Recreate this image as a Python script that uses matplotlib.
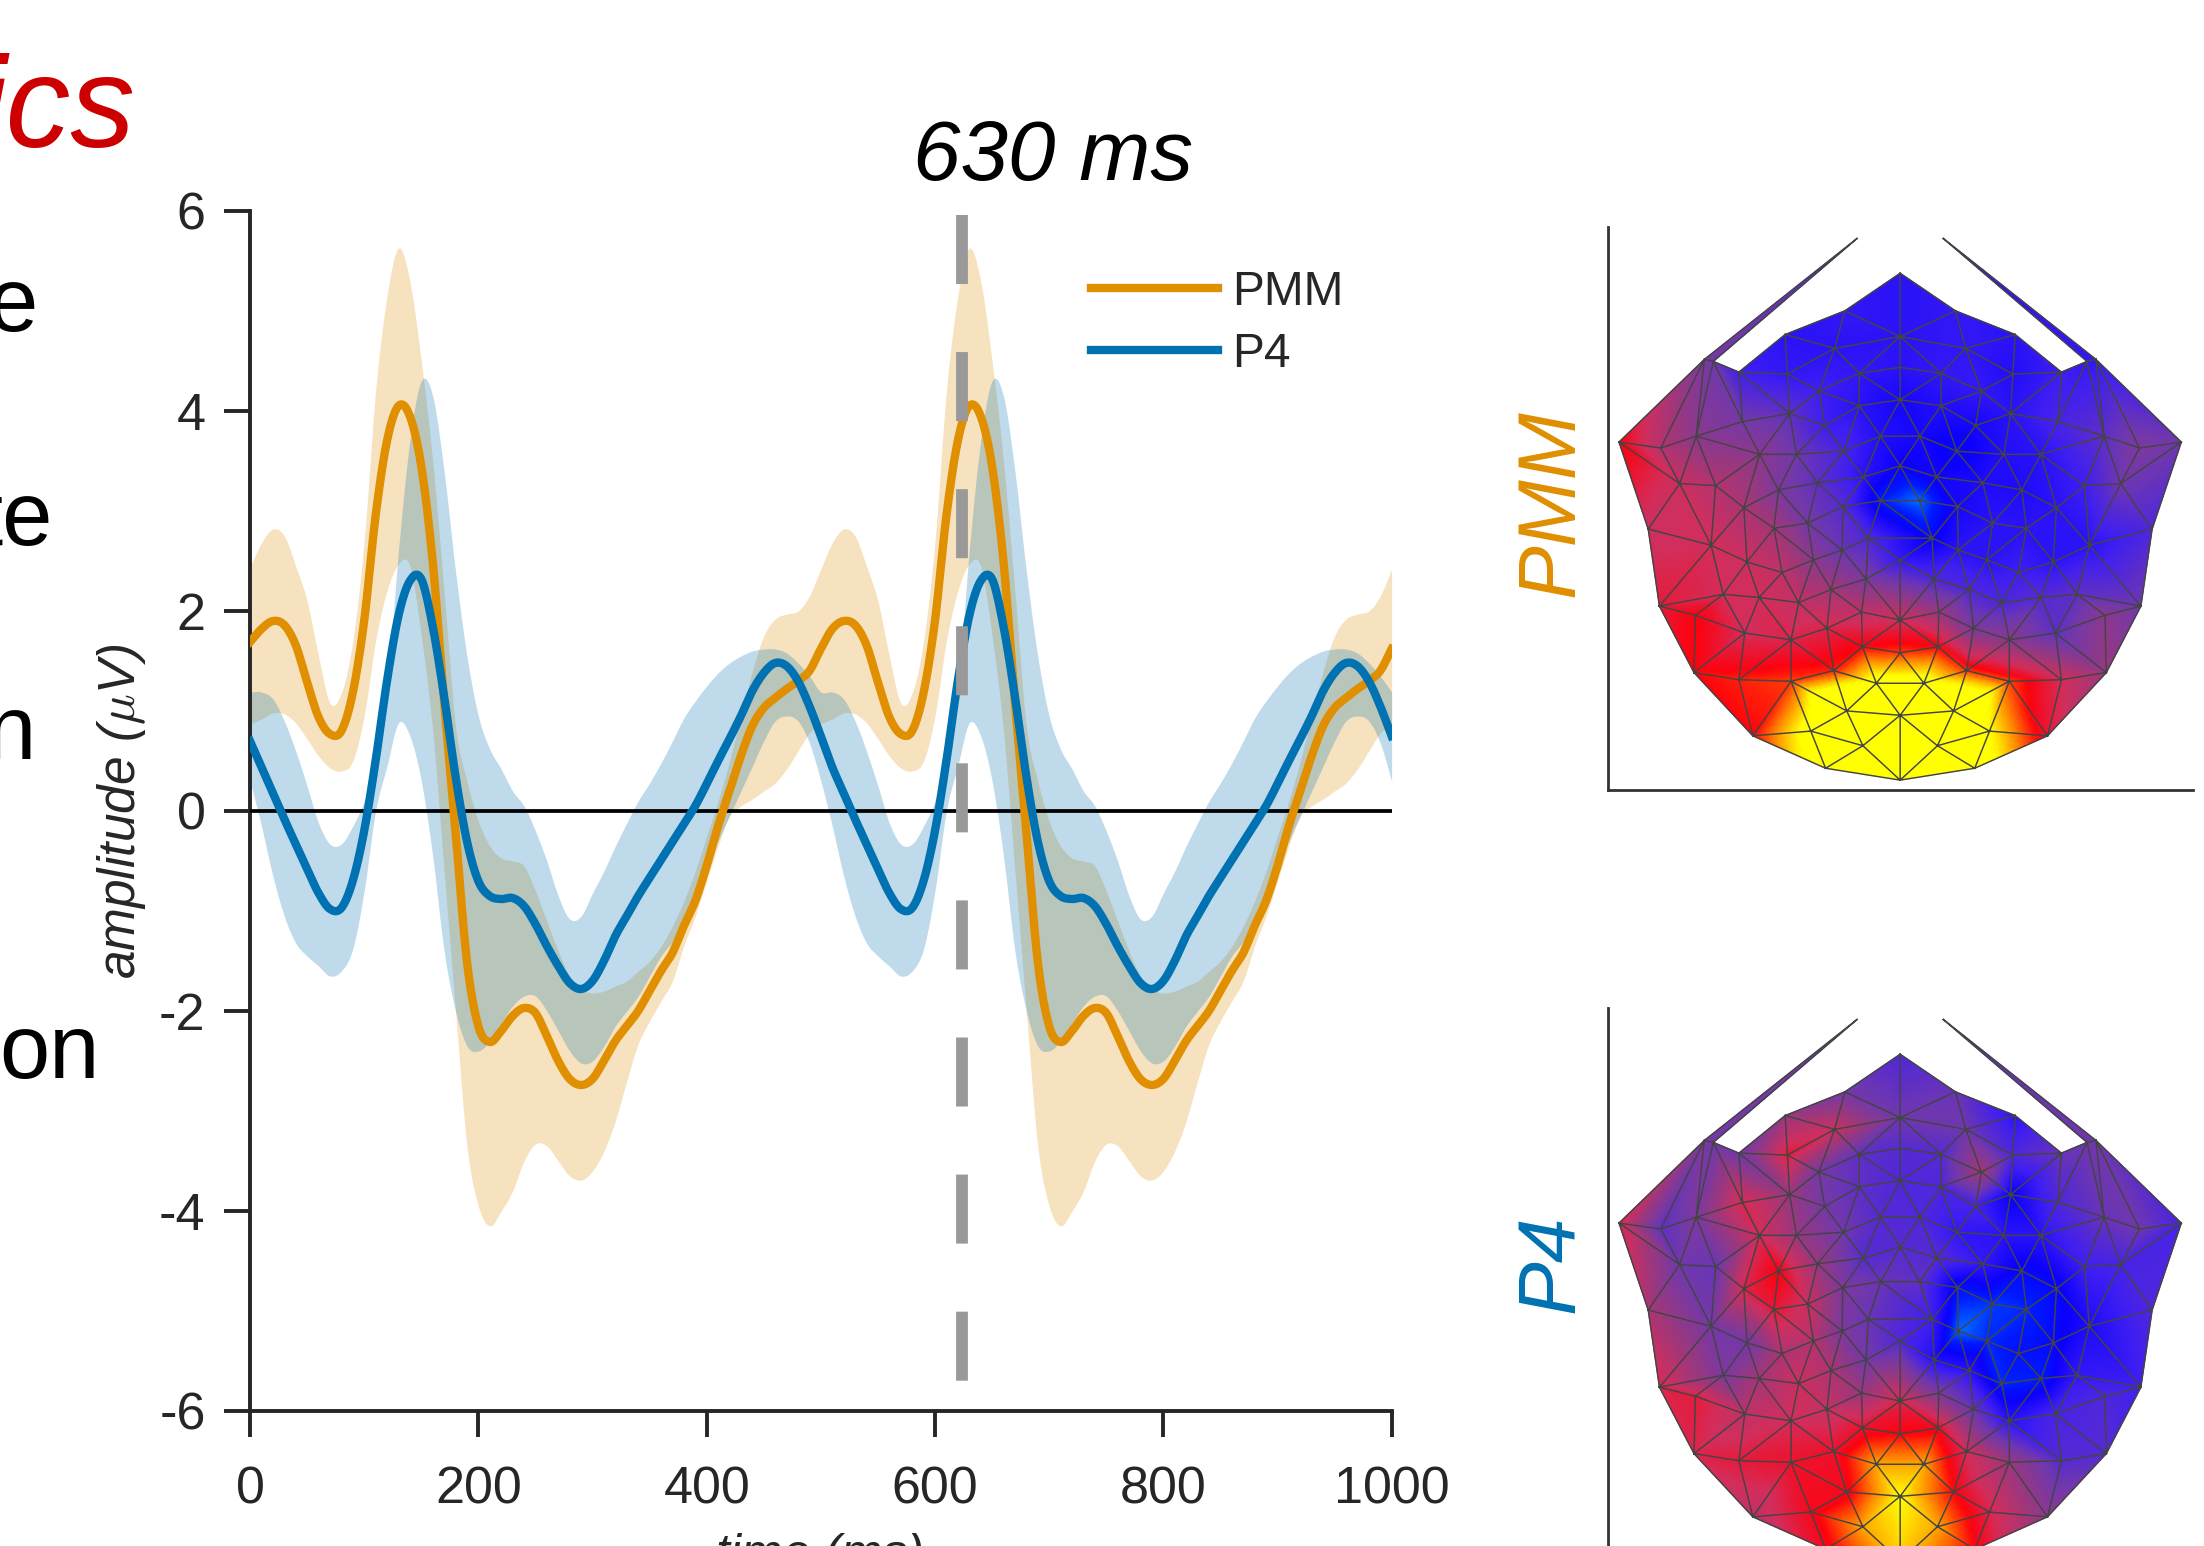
import numpy as np
import matplotlib
matplotlib.use("Agg")
import matplotlib.pyplot as plt
from matplotlib.tri import Triangulation
from matplotlib.path import Path
from matplotlib.colors import LinearSegmentedColormap

plt.rcParams['font.family'] = ['Liberation Sans', 'DejaVu Sans']
plt.rcParams['mathtext.fontset'] = 'cm'
plt.rcParams['axes.unicode_minus'] = False
plt.rcParams['lines.scale_dashes'] = False

W, H = 2204, 1546
ORANGE = '#DF8F00'
BLUE = '#0072B2'
DARK = '#262626'

# ---------- time courses: one 0-500 ms epoch, shown twice ----------
time_ms = np.arange(0, 1001, 10)
xticks = [0, 200, 400, 600, 800, 1000]
yticks = [-6, -4, -2, 0, 2, 4, 6]
marker_ms = 624

pmm_mean = [1.69, 1.82, 1.90, 1.86, 1.66, 1.29, .94, .77, .80, 1.18, 1.9, 2.95, 3.7, 4.05, 3.95, 3.45, 2.5, 1.1, -.2, -1.5,
            -2.15, -2.31, -2.2, -2.05, -1.97, -2.02, -2.25, -2.5, -2.68, -2.74, -2.68, -2.5, -2.3, -2.15, -2.0, -1.8,
            -1.6, -1.42, -1.15, -.9, -.55, -.15, .2, .55, .85, 1.03, 1.13, 1.22, 1.3, 1.4, 1.62]
pmm_upper = [2.44, 2.68, 2.82, 2.75, 2.45, 2.1, 1.55, 1.08, 1.18, 1.7, 2.7, 4.2, 5.15, 5.63, 5.3, 4.5, 3.5, 2.2, .85, .3,
             -.1, -.35, -.47, -.5, -.55, -.8, -1.1, -1.4, -1.65, -1.78, -1.82, -1.8, -1.75, -1.7, -1.6, -1.5,
             -1.35, -1.15, -.9, -.6, -.25, .1, .5, .95, 1.4, 1.75, 1.92, 1.97, 2.0, 2.15, 2.42]
pmm_lower = [.87, .92, .98, .97, .88, .72, .55, .43, .4, .5, .95, 1.7, 2.2, 2.47, 2.45, 1.75, .8, -.6, -2.0, -3.35,
             -3.95, -4.15, -4.0, -3.8, -3.5, -3.33, -3.35, -3.5, -3.65, -3.69, -3.6, -3.4, -3.1, -2.7, -2.33, -2.1,
             -1.9, -1.7, -1.35, -1.05, -.7, -.35, -.05, .05, .12, .2, .28, .42, .6, .78, .87]
p4_mean = [.7, .44, .18, -.08, -.33, -.58, -.82, -.98, -.97, -.7, -.2, .5, 1.3, 1.95, 2.3, 2.32, 1.85, 1.15, .35, -.3,
           -.7, -.85, -.88, -.87, -.95, -1.13, -1.35, -1.55, -1.72, -1.78, -1.7, -1.5, -1.25, -1.05, -.85, -.67,
           -.49, -.31, -.13, .05, .27, .5, .72, .95, 1.2, 1.38, 1.48, 1.45, 1.3, 1.05, .75]
p4_upper = [1.19, 1.19, 1.12, .9, .6, .25, -.12, -.33, -.33, -.15, .1, .5, 1.2, 2.6, 3.7, 4.3, 4.15, 3.4, 2.4, 1.55,
            .95, .62, .42, .2, .05, -.2, -.5, -.85, -1.08, -1.05, -.82, -.6, -.35, -.12, .1, .28,
            .48, .7, .93, 1.1, 1.25, 1.38, 1.48, 1.55, 1.6, 1.62, 1.62, 1.58, 1.48, 1.35, 1.19]
p4_lower = [.3, -.15, -.65, -1.05, -1.32, -1.45, -1.55, -1.65, -1.6, -1.38, -.8, 0, .45, .88, .75, .3, -.45, -1.4, -2.0, -2.35,
            -2.4, -2.3, -2.12, -1.95, -1.85, -1.85, -2.0, -2.2, -2.4, -2.52, -2.5, -2.35, -2.15, -2.0, -1.85, -1.65,
            -1.45, -1.3, -1.05, -.85, -.6, -.3, -.05, .2, .45, .7, .9, .95, .9, .68, .3]

def twice(a):
    return np.array(a + a[1:])

def curve(x, y, sub=12):
    """Draw a curve (not a polygon) through the read values: cubic Hermite segments."""
    x = np.asarray(x, float)
    y = np.asarray(y, float)
    m = np.gradient(y, x)
    h = x[1:] - x[:-1]
    u = np.linspace(0, 1, sub, endpoint=False)[None, :]
    h00 = 2 * u**3 - 3 * u**2 + 1
    h10 = u**3 - 2 * u**2 + u
    h01 = -2 * u**3 + 3 * u**2
    h11 = u**3 - u**2
    yy = (h00 * y[:-1, None] + h10 * (h * m[:-1])[:, None] + h01 * y[1:, None] + h11 * (h * m[1:])[:, None]).ravel()
    xx = (x[:-1, None] + h[:, None] * u).ravel()
    return np.r_[xx, x[-1]], np.r_[yy, y[-1]]

# ---------- scalp mesh: left half nodes, mirrored about mesh_axis ----------
mesh_axis_x2 = 1782
left_x = [768, 635, 745, 532, 640, 800, 710, 800, 645, 540, 723, 847, 437, 358, 765, 660, 578, 400, 480, 620,
          707, 810, 763, 848, 543, 610, 685, 470, 330, 762, 698, 628, 550, 815, 497, 577, 665, 737, 355, 435,
          805, 728, 545, 648, 807, 743, 838, 432, 532, 648, 772, 692, 563, 808, 725, 820, 455, 475, 265]
left_y = [280, 340, 375, 435, 440, 438, 483, 520, 540, 560, 570, 597, 597, 627, 635, 643, 643, 717, 722, 733,
          715, 700, 775, 760, 778, 830, 817, 873, 832, 885, 910, 942, 915, 958, 997, 1005, 1018, 985, 1027, 1050,
          1042, 1083, 1095, 1112, 1130, 1190, 1222, 1195, 1213, 1217, 1292, 1343, 1355, 1380, 1437, 855, 403, 408, 612]
center_y = [185, 345, 423, 505, 672, 910, 1062, 1145, 1303, 1467]
spike_xy = (795, 97)

pmm_left = [.22, .2, .2, .25, .22, .22, .25, .2, .35, .42, .25, .18, .5, .62, .28, .4, .5, .68, .62, .45,
            .35, .2, .32, .06, .6, .58, .42, .7, .68, .38, .5, .65, .68, .45, .7, .7, .66, .58, .74, .8,
            .65, .72, .7, .72, .8, .82, 1.05, .8, .82, .84, 1.3, 1.05, .8, 1.6, 1.1, .3, .45, .4, .8]
pmm_right = [.22, .2, .22, .25, .18, .22, .22, .18, .2, .28, .15, .15, .35, .45, .1, .18, .2, .4, .25, .17,
             .17, .14, .15, 0.0, .2, .2, .2, .2, .3, .2, .2, .25, .2, .3, .35, .32, .3, .3, .4, .5,
             .55, .45, .35, .5, .8, .84, 1.05, .55, .7, .85, 1.3, 1.0, .75, 1.6, 1.1, .1, .22, .22, .4]
pmm_center = [.2, .2, .2, .15, .12, .22, .7, .84, 1.6, 1.6]
pmm_spikes = [.3, .2]

p4_left = [.42, .55, .68, .4, .75, .35, .42, .35, .55, .72, .42, .32, .45, .35, .4, .55, .7, .4, .38, .8,
           .55, .32, .45, .38, .72, .75, .68, .42, .6, .45, .62, .6, .42, .42, .45, .58, .68, .6, .72, .74,
           .55, .66, .65, .7, .76, .76, .92, .72, .74, .76, .78, .78, .65, .92, .78, .38, .45, .4, .72]
p4_right = [.38, .2, .4, .38, .3, .32, .58, .3, .12, .3, .27, .3, .38, .4, .22, .2, .2, .28, .25, .1,
            .22, .32, .08, .35, .1, .05, .04, .17, .3, 0.0, .05, .08, .1, .18, .22, .06, .05, .2, .25, .3,
            .45, .38, .28, .2, .78, .7, .92, .32, .32, .55, .8, .72, .5, .92, .8, .25, .4, .4, .28]
p4_center = [.3, .4, .32, .3, .32, .3, .72, .8, 1.0, .95]
p4_spikes = [.4, .35]

# ---------- colour scale ----------
cmap_stops = [(0.0, (0.0, .42, 1.0)), (.06, (0.0, .1, 1.0)), (.12, (.04, 0.0, 1.0)), (.25, (.25, .12, .95)),
              (.4, (.44, .22, .68)), (.55, (.60, .22, .50)), (.7, (.83, .18, .36)), (.8, (1.0, 0.0, .05)),
              (.9, (1.0, .55, 0.0)), (1.0, (1.0, 1.0, 0.0))]
topo_cmap = LinearSegmentedColormap.from_list('topo', cmap_stops)

# ---------- figure helpers ----------
fig = plt.figure(figsize=(W / 100, H / 100), dpi=100)

def add_ax(l, t, r, b):
    return fig.add_axes([l / W, 1 - b / H, (r - l) / W, (b - t) / H])

def ftext(px, py, s, **kw):
    return fig.text(px / W, 1 - py / H, s, **kw)

# ---------- main axes ----------
ax = add_ax(250, 211, 1391.6, 1411)
t = time_ms
for lo, up, col, z in [(pmm_lower, pmm_upper, ORANGE, 1), (p4_lower, p4_upper, BLUE, 2)]:
    xs, ys_lo = curve(t, twice(lo))
    _, ys_up = curve(t, twice(up))
    ax.fill_between(xs, ys_lo, ys_up, color=col, alpha=.25, lw=0, zorder=z)
ax.plot([0, 1000], [0, 0], color='k', lw=2.7, zorder=3)
ax.plot(*curve(t, twice(pmm_mean)), color=ORANGE, lw=6, label='PMM', zorder=4, solid_joinstyle='round')
ax.plot(*curve(t, twice(p4_mean)), color=BLUE, lw=6, label='P4', zorder=5, solid_joinstyle='round')
ax.plot([marker_ms, marker_ms], [5.955, -5.695], color='#999999', lw=8.5, ls=(0, (49.7, 49)),
        dash_capstyle='butt', zorder=6)
ax.set_xlim(0, 1000)
ax.set_ylim(-6, 6)
ax.set_xticks(xticks)
ax.set_xticklabels([str(v) for v in xticks])
ax.set_yticks(yticks)
ax.set_yticklabels([str(v) for v in yticks])
ax.tick_params(axis='both', direction='out', length=19, width=2.8, color=DARK, labelcolor=DARK, labelsize=37.5)
ax.tick_params(axis='x', pad=20.5)
ax.tick_params(axis='y', pad=13)
for s in ('top', 'right'):
    ax.spines[s].set_visible(False)
for s in ('left', 'bottom'):
    ax.spines[s].set_linewidth(2.8)
    ax.spines[s].set_color(DARK)
ax.legend(loc='upper left', bbox_to_anchor=((1091 - 250) / 1141.6, (1411 - 270) / 1200), frameon=False, fontsize=34.5,
          handlelength=2.64, handletextpad=.3, labelspacing=.36, borderpad=0, borderaxespad=0,
          labelcolor=DARK)

ftext(122, 811, 'amplitude ($\\mu$V)', rotation=90, ha='center', va='center', style='italic', fontsize=37, color=DARK)
ftext(820, 1556, 'time (ms)', ha='center', va='center', style='italic', fontsize=36, color=DARK)
ftext(1053, 158, '630 ms', ha='center', va='center', style='italic', fontsize=61.5, color='k')

# clipped slide text
ftext(136, 147, 'ics', ha='right', va='baseline', style='italic', fontsize=93, color='#CC0000')
for px, py, s in [(37, 331, 'e'), (53, 545, 'te'), (35, 759, 'n'), (100, 1078, 'on')]:
    ftext(px, py, s, ha='right', va='baseline', fontsize=65, color='k')

# ---------- topographies ----------
lx = np.array(left_x, float)
ly = np.array(left_y, float)
cy = np.array(center_y, float)
mx = np.r_[lx, mesh_axis_x2 - lx, np.full(cy.size, mesh_axis_x2 / 2)]
my = np.r_[ly, ly, cy]
base = Triangulation(mx, my)

def nid(x, y, right=False):
    i = next(k for k in range(len(lx)) if lx[k] == x and ly[k] == y)
    return i + (len(lx) if right else 0)

out_left = [(891, 185), (768, 280), (635, 340), (532, 435), (475, 408), (455, 403), (265, 612), (330, 832),
            (355, 1027), (432, 1195), (563, 1355), (725, 1437), (891, 1467)]
outline = out_left + [(mesh_axis_x2 - a, b) for a, b in out_left[::-1][1:-1]]
cent = np.c_[mx[base.triangles].mean(1), my[base.triangles].mean(1)]
inside = Path(outline).contains_points(cent)
tris = base.triangles[inside]

n_main = len(mx)
all_x = np.r_[mx, spike_xy[0], mesh_axis_x2 - spike_xy[0]]
all_y = np.r_[my, spike_xy[1], spike_xy[1]]
spikes = [[n_main, nid(455, 403), nid(475, 408)],
          [n_main + 1, nid(455, 403, True), nid(475, 408, True)]]
tris = np.vstack([tris, spikes])

def refine(x, y, tr, z, n=8):
    ij = [(i, j) for i in range(n + 1) for j in range(n + 1 - i)]
    index = {p: k for k, p in enumerate(ij)}
    bary = np.array([(i / n, j / n, 1 - (i + j) / n) for i, j in ij])
    cells = []
    for i, j in ij:
        if (i + 1, j) in index and (i, j + 1) in index:
            cells.append((index[(i, j)], index[(i + 1, j)], index[(i, j + 1)]))
        if (i + 1, j + 1) in index:
            cells.append((index[(i + 1, j)], index[(i + 1, j + 1)], index[(i, j + 1)]))
    cells = np.array(cells)
    m = len(bary)
    rx = (x[tr] @ bary.T).ravel()
    ry = (y[tr] @ bary.T).ravel()
    rz = (z[tr] @ bary.T).ravel()
    rt = np.vstack([cells + m * k for k in range(len(tr))])
    return rx, ry, rt, rz

def topo(top_px, vals):
    tax = add_ax(1608, top_px, 2193, top_px + 563)
    rx, ry, rt, rz = refine(all_x, all_y, tris, vals)
    tax.tripcolor(rx, ry, rt, rz, shading='gouraud', cmap=topo_cmap, vmin=0, vmax=1)
    tax.triplot(all_x, all_y, tris, color='#444444', lw=1.05)
    tax.set_xlim(240.5, 1543)
    tax.set_ylim(1492, 68)
    tax.set_xticks([])
    tax.set_yticks([])
    for s in ('top', 'right'):
        tax.spines[s].set_visible(False)
    for s in ('left', 'bottom'):
        tax.spines[s].set_linewidth(2)
        tax.spines[s].set_color('#333333')
    return tax

topo(227, np.r_[pmm_left, pmm_right, pmm_center, pmm_spikes])
topo(1008, np.r_[p4_left, p4_right, p4_center, p4_spikes])

ftext(1553, 503, 'PMM', rotation=90, ha='center', va='center', style='italic', fontsize=58, color=ORANGE)
ftext(1553, 1264, 'P4', rotation=90, ha='center', va='center', style='italic', fontsize=58, color=BLUE)

fig.savefig('out.png', dpi=100)
